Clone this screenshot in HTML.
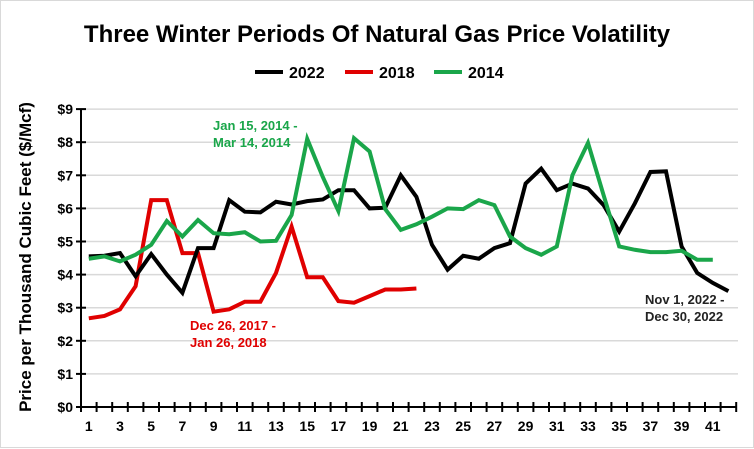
<!DOCTYPE html>
<html><head><meta charset="utf-8"><style>
body{margin:0;background:#fff;}
svg{display:block;font-family:"Liberation Sans",Arial,sans-serif;}
</style></head><body>
<svg id="chart" width="754" height="449">
<rect x="0.5" y="0.5" width="753" height="447" fill="#fff" stroke="#d9d9d9"/>
<text x="377" y="42" text-anchor="middle" font-size="24" font-weight="bold">Three Winter Periods Of Natural Gas Price Volatility</text>
<g>
<g><line x1="255" y1="72" x2="283" y2="72" stroke="#000" stroke-width="4"/><text x="289" y="78" font-size="16" font-weight="bold">2022</text></g>
<g><line x1="345" y1="72" x2="373" y2="72" stroke="#e00000" stroke-width="4"/><text x="379" y="78" font-size="16" font-weight="bold">2018</text></g>
<g><line x1="434" y1="72" x2="462" y2="72" stroke="#1aa64a" stroke-width="4"/><text x="468" y="78" font-size="16" font-weight="bold">2014</text></g>
</g>
<text transform="translate(31,257) rotate(-90)" text-anchor="middle" font-size="17" font-weight="bold">Price per Thousand Cubic Feet ($/Mcf)</text>
<g id="grid"></g><g id="series"></g><g id="axes"></g>
<g font-size="13" font-weight="bold">
<text fill="#1aa64a"><tspan x="213" y="130">Jan 15, 2014  -</tspan><tspan x="213" y="147">Mar 14, 2014</tspan></text>
<text fill="#e00000"><tspan x="190" y="330">Dec 26, 2017  -</tspan><tspan x="190" y="347">Jan 26, 2018</tspan></text>
<text fill="#222"><tspan x="645" y="304">Nov 1, 2022  -</tspan><tspan x="645" y="321">Dec 30, 2022</tspan></text>
</g>
</svg>
<script>
const yTicks=[0,1,2,3,4,5,6,7,8,9];
const xLabels=[1,3,5,7,9,11,13,15,17,19,21,23,25,27,29,31,33,35,37,39,41];
const s2022=[4.55,4.57,4.65,3.95,4.62,4.0,3.45,4.8,4.8,6.25,5.9,5.88,6.2,6.12,6.22,6.27,6.55,6.55,6.0,6.02,7.0,6.35,4.9,4.15,4.57,4.48,4.8,4.95,6.75,7.2,6.55,6.75,6.6,6.1,5.3,6.15,7.1,7.12,4.85,4.05,3.75,3.5];
const s2018=[2.68,2.75,2.95,3.65,6.25,6.25,4.65,4.65,2.88,2.95,3.18,3.18,4.05,5.45,3.92,3.92,3.2,3.15,3.35,3.55,3.55,3.58];
const s2014=[4.48,4.55,4.4,4.6,4.9,5.62,5.15,5.65,5.25,5.22,5.28,5.0,5.02,5.8,8.1,6.95,5.92,8.12,7.72,5.98,5.35,5.52,5.75,6.0,5.98,6.25,6.1,5.15,4.8,4.6,4.85,7.0,7.98,6.4,4.85,4.75,4.68,4.68,4.72,4.45,4.45];
const NS="http://www.w3.org/2000/svg";
const x0=81,step=15.6,nCat=42,yBase=407,perD=33.1;
const xs=i=>x0+step*(i+0.5);
const ys=v=>yBase-v*perD;
function mk(t,a,p){const e=document.createElementNS(NS,t);for(const k in a)e.setAttribute(k,a[k]);p.appendChild(e);return e;}
const grid=document.getElementById('grid'),axes=document.getElementById('axes'),ser=document.getElementById('series');
yTicks.forEach(v=>{
 if(v>0){const g=mk('line',{x1:x0,x2:738,y1:ys(v),y2:ys(v),stroke:'#d9d9d9','stroke-width':1.5},grid);
 
 }
 const tk=mk('line',{x1:x0-5,x2:x0+5,y1:ys(v),y2:ys(v),stroke:'#000','stroke-width':2},axes);
 
 
 const t=mk('text',{x:x0-8,y:ys(v)+5,'text-anchor':'end','font-size':14,'font-weight':'bold'},axes);
 t.textContent='$'+v;
 
 
});
const ax=mk('line',{x1:x0,x2:x0,y1:ys(9),y2:yBase,stroke:'#000','stroke-width':2},axes);


const xa=mk('line',{x1:x0,x2:x0+step*nCat,y1:yBase,y2:yBase,stroke:'#000','stroke-width':2},axes);


for(let i=0;i<=nCat;i++){const t=mk('line',{x1:x0+step*i,x2:x0+step*i,y1:yBase-5,y2:yBase+5,stroke:'#000','stroke-width':2},axes);
 
 }
xLabels.forEach(l=>{const t=mk('text',{x:xs(l-1),y:431,'text-anchor':'middle','font-size':14,'font-weight':'bold'},axes);
 t.textContent=l;
 
 });
function line(data,color,name){
 const p=mk('polyline',{points:data.map((v,i)=>xs(i)+','+ys(v)).join(' '),fill:'none',stroke:color,'stroke-width':4,'stroke-linejoin':'miter'},ser);
 
 
}
line(s2018,'#e00000','series-2018-line');
line(s2022,'#000','series-2022-line');
line(s2014,'#1aa64a','series-2014-line');
</script>
</body></html>
